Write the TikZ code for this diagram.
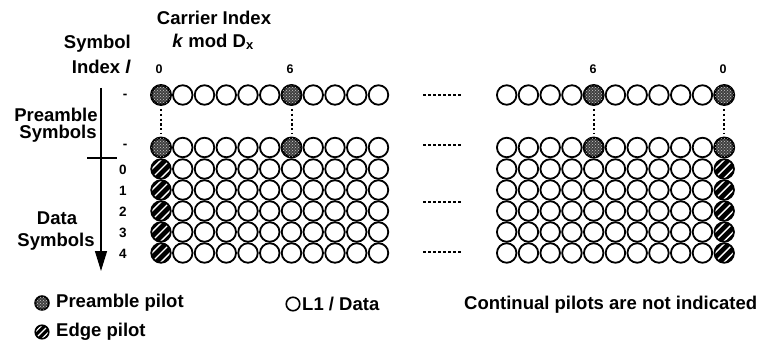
\documentclass[tikz,border=0pt]{standalone}
\usepackage{fontspec}
\setmainfont{Liberation Sans}
\usetikzlibrary{patterns,arrows.meta}
\begin{document}
\begin{tikzpicture}[x=1pt,y=-1pt,
  lbl/.style={font=\bfseries\fontsize{18.5}{20}\selectfont, inner sep=0pt},
  num/.style={font=\bfseries\fontsize{12.5}{13}\selectfont, inner sep=0pt},
  rnum/.style={font=\bfseries\fontsize{13.5}{14}\selectfont, inner sep=0pt},
  cell/.style={circle, draw=black, line width=1.8pt, minimum size=19.5pt, inner sep=0pt, fill=white},
  ppil/.style={cell, line width=2.4pt, fill=black!75, postaction={pattern=crosshatch dots, pattern color=white!80!black}},
  epil/.style={cell, fill=black, path picture={
      \foreach \k in {-4.6,0,4.6}{
        \draw[white, line width=1.4pt]
          ([shift={(\k-12,\k+12)}]path picture bounding box.center) --
          ([shift={(\k+12,\k-12)}]path picture bounding box.center);}}},
  vdots/.style={line width=2pt, dash pattern=on 2.2pt off 2.6pt},
  hdots/.style={line width=1.5pt, dash pattern=on 2.6pt off 2.4pt},
  axis/.style={line width=1.3pt},
]
\useasboundingbox (0,0) rectangle (759,347);

% header texts
\node[lbl] (ci) at (214,18) {Carrier Index};
\node[lbl] (km) at (213,42) {\textit{k} mod D\textsubscript{x}};
\node[lbl, anchor=east] (sy) at (131,44) {Symbol};
\node[lbl, anchor=east] (il) at (131,67) {Index \textit{l}};

\node[num] (c0l) at (159,69) {0};
\node[num] (c6l) at (290,69) {6};
\node[num] (c6r) at (593,69) {6};
\node[num] (c0r) at (723,69) {0};

% side labels
\node[lbl] (pre) at (56,115) {Preamble};
\node[lbl] (sy1) at (58,134) {Symbols};
\node[lbl] (dat) at (57,218) {Data};
\node[lbl] (sy2) at (56,242) {Symbols};

% axis
\coordinate (at) at (101,88);
\coordinate (ab) at (101,271);
\draw[axis, -{Triangle[length=20pt,width=12pt]}] (at) -- (ab);
\coordinate (tl) at (87,158);
\coordinate (tr) at (117,158);
\draw[axis] (tl) -- (tr);

% row labels
\node[rnum] (rp0) at (125,96) {-};
\node[rnum] (rp1) at (125,146) {-};
\foreach \r/\y in {0/170,1/191,2/212,3/233,4/254}
  \node[rnum] (rd\r) at (123,\y) {\r};

% grids
\foreach \r/\y in {0/95,1/147.5,2/169,3/190,4/211,5/232,6/253}{
  \foreach \c in {0,...,10}{
    \pgfmathsetmacro\xl{161+21.75*\c}
    \pgfmathsetmacro\xr{506.7+21.75*\c}
    \def\styl{cell}\def\styr{cell}
    \ifnum\c=0 \ifnum\r<2 \def\styl{ppil}\else\def\styl{epil}\fi\fi
    \ifnum\c=6 \ifnum\r<2 \def\styl{ppil}\fi\fi
    \ifnum\c=10 \ifnum\r<2 \def\styr{ppil}\else\def\styr{epil}\fi\fi
    \ifnum\c=4 \ifnum\r<2 \def\styr{ppil}\fi\fi
    \edef\tmp{\noexpand\node[\styl] (L\r-\c) at (\xl,\y) {};
              \noexpand\node[\styr] (R\r-\c) at (\xr,\y) {};}
    \tmp
  }
}

% vertical dots between preamble symbols
\draw[vdots] ([yshift=-3pt]L0-0.south) -- ([yshift=3pt]L1-0.north);
\draw[vdots] ([yshift=-3pt]L0-6.south) -- ([yshift=3pt]L1-6.north);
\draw[vdots] ([yshift=-3pt]R0-4.south) -- ([yshift=3pt]R1-4.north);
\draw[vdots] ([yshift=-3pt]R0-10.south) -- ([yshift=3pt]R1-10.north);

% horizontal dotted gaps
\foreach \i/\y in {1/95,2/145,3/202,4/252}{
  \coordinate (ha\i) at (423,\y);
  \coordinate (hb\i) at (461,\y);
  \draw[hdots] (ha\i) -- (hb\i);
}

% legend
\node[ppil, minimum size=13.5pt, line width=2pt] (lgp) at (42,303) {};
\node[lbl, anchor=west] (lgpt) at (56,303) {Preamble pilot};
\node[cell, minimum size=13.5pt, line width=1.6pt, fill=black, path picture={
      \foreach \k in {-3.4,0,3.4}{
        \draw[white, line width=1.2pt]
          ([shift={(\k-9,\k+9)}]path picture bounding box.center) --
          ([shift={(\k+9,\k-9)}]path picture bounding box.center);}}] (lge) at (42,332) {};
\node[lbl, anchor=west] (lget) at (56,332) {Edge pilot};
\node[cell, minimum size=13.5pt, line width=1.6pt] (lgd) at (293,304) {};
\node[lbl, anchor=west] (lgdt) at (302,304) {L1 / Data};
\node[lbl, anchor=west] (cont) at (464,305) {Continual pilots are not indicated};
\end{tikzpicture}
\end{document}
